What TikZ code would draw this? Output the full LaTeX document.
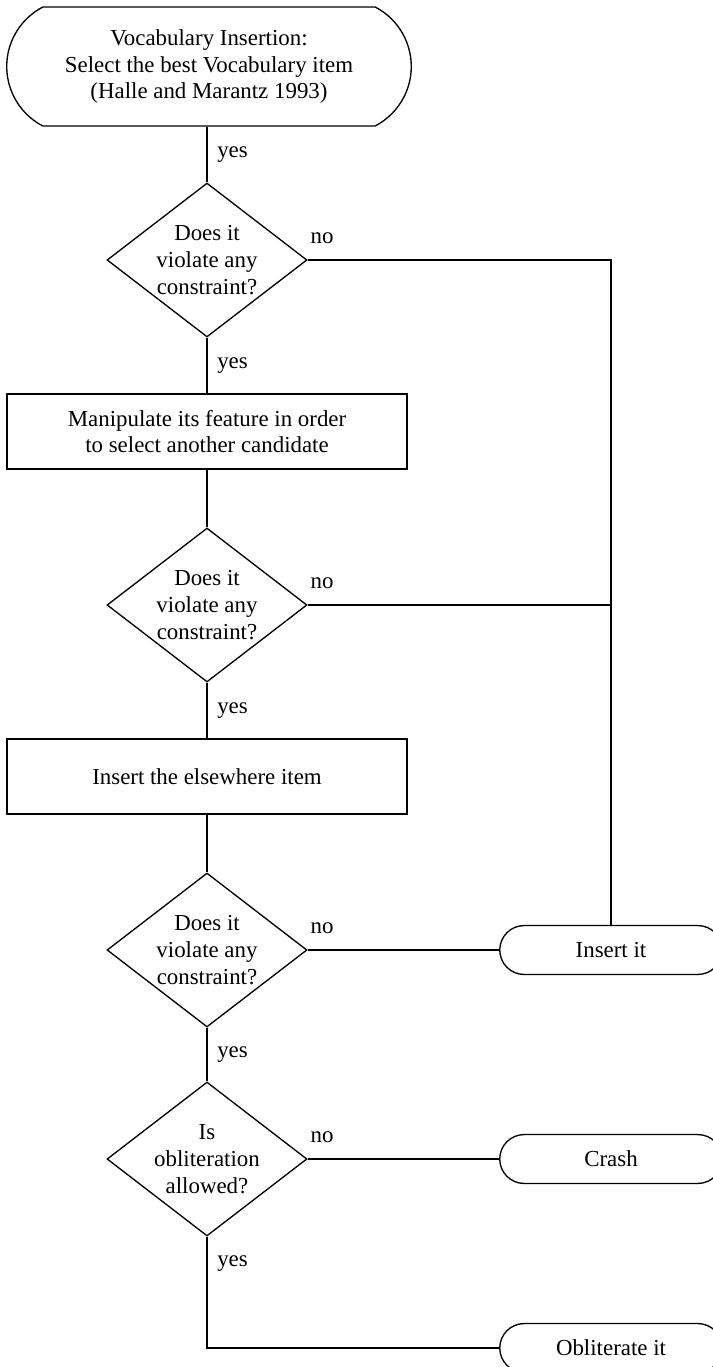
\documentclass[tikz,border=0pt]{standalone}
\usepackage{fontspec}
\setmainfont{Liberation Serif}
\usetikzlibrary{arrows,positioning,shapes,shapes.geometric,shapes.misc}

\begin{document}
\begin{tikzpicture}[
            x = 0.45pt, % one pixel of the scan
            y = -0.45pt, % y runs down the page
            semithick, % line style
            font = \fontsize{10.3}{12}\selectfont
        ]

        \tikzstyle{terminal}=[
            draw = black,
            rounded rectangle,
            minimum width = 106.8pt,
            minimum height = 22pt
        ]
        \tikzstyle{decision}=[
            draw = black,
            diamond,
            aspect = 1.3,
            inner sep = 0pt,
            minimum width = 90pt,
            minimum height = 69.3pt,
            align = center
        ]
        \tikzstyle{process}=[
            draw = black,
            rectangle,
            minimum width = 180pt,
            minimum height = 33.75pt,
            align = center
        ]
        \tikzstyle{yeslabel}=[right = 1pt]
        \tikzstyle{nolabel}=[pos = 0, anchor = south west, inner sep = 1pt, yshift = 6.2pt]

        \clip (0,0) rectangle (713,1367);

        \node[terminal, rounded rectangle arc length = 125, minimum width = 188.7pt,
              minimum height = 53.55pt, align = center] (voc) [at={(209,66.5)}]
              {Vocabulary Insertion:\\Select the best Vocabulary item\\(Halle and Marantz 1993)};
        \node[decision] (q1) [at={(207,260)}] {Does it\\violate any\\constraint?};
        \node[process] (manip) [at={(207,431.5)}] {Manipulate its feature in order\\to select another candidate};
        \node[decision] (q2) [at={(207,605)}] {Does it\\violate any\\constraint?};
        \node[process] (elsew) [at={(207,776.5)}] {Insert the elsewhere item};
        \node[decision] (q3) [at={(207,950)}] {Does it\\violate any\\constraint?};
        \node[decision] (q4) [at={(207,1159)}] {Is\\obliteration\\allowed?};
        % Outcomes
        \node[terminal] (ins) [at={(611,950)}] {Insert it};
        \node[terminal] (crash) [at={(611,1159)}] {Crash};
        \node[terminal] (oblit) [at={(611,1348)}] {Obliterate it};

        % yes branches
        \draw (voc.south -| q1.north) -- node[yeslabel] {yes} (q1.north);
        \draw (q1) -- node[yeslabel] {yes} (manip);
        \draw (manip) -- (q2);
        \draw (q2) -- node[yeslabel] {yes} (elsew);
        \draw (elsew) -- (q3);
        \draw (q3) -- node[yeslabel] {yes} (q4);
        \draw (q4.south) |- node[yeslabel, pos = 0.12] {yes} (oblit.west);
        % no branches
        \draw (q1.east) -- node[nolabel] {no} (q1.east -| ins.north) -- (ins.north);
        \draw (q2.east) -- node[nolabel] {no} (q2.east -| ins.north);
        \draw (q3.east) -- node[nolabel] {no} (ins.west);
        \draw (q4.east) -- node[nolabel] {no} (crash.west);

\end{tikzpicture}
\end{document}
